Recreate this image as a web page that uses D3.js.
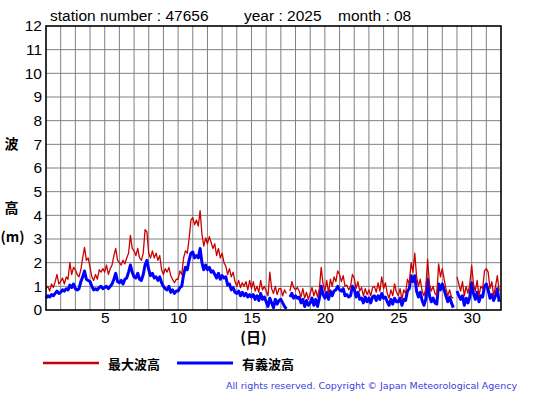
<!DOCTYPE html>
<html>
<head>
<meta charset="utf-8">
<script src="https://cdn.jsdelivr.net/npm/d3@7"></script>
<style>
  body { margin: 0; background: #fff; }
  svg { display: block; }
</style>
</head>
<body>
<svg width="555" height="395"></svg>
<script>
// 観測値 (3時間ごと, 1日8点), null = 欠測
var maxWave = [
  0.9,1.0,0.8,1.1,0.95,1.2,1.5,1.1,
  1.2,1.35,1.1,1.4,1.3,2.0,1.5,1.8,
  1.7,1.5,1.4,1.7,2.2,2.65,2.1,2.2,
  1.8,1.4,1.25,1.5,1.3,1.7,1.6,1.75,
  1.6,1.9,1.5,1.75,1.9,2.3,2.6,2.1,
  2.0,1.9,2.1,1.95,2.2,2.4,3.15,2.6,
  2.5,2.3,2.6,2.2,2.1,2.4,3.4,3.3,
  2.4,2.2,2.5,2.2,2.4,2.1,2.3,1.7,
  1.5,1.75,1.6,1.8,1.45,1.3,1.15,1.3,
  1.3,1.65,1.5,2.2,2.5,2.4,3.0,3.8,
  3.9,3.6,3.8,3.55,4.2,3.2,2.7,3.05,
  2.8,3.1,2.85,2.6,2.8,2.3,2.6,2.2,
  2.4,2.0,1.85,1.5,1.75,1.4,1.6,1.2,
  1.0,1.25,0.95,1.15,1.0,1.2,0.85,1.25,
  0.9,1.2,0.8,1.0,0.75,1.25,0.85,1.0,
  0.8,0.6,1.6,0.9,0.7,1.0,0.65,0.9,
  0.9,0.6,0.85,0.7,null,0.8,1.2,0.95,
  0.85,0.95,0.8,0.55,0.9,0.5,0.75,0.45,
  0.7,0.95,0.6,0.85,0.55,0.9,1.8,1.1,
  0.8,1.25,0.7,1.3,1.0,1.4,1.2,1.65,
  1.5,1.2,1.45,1.0,1.05,0.85,1.0,1.5,
  1.35,0.9,1.2,0.8,0.95,0.6,0.9,0.65,
  0.85,0.6,0.95,1.0,0.75,1.15,0.8,1.4,
  0.9,1.15,0.7,0.5,0.85,0.6,1.1,0.75,
  0.6,0.9,0.45,0.85,0.7,1.3,1.1,2.0,
  1.6,2.4,1.4,1.0,1.3,0.8,0.6,0.9,
  2.15,1.1,0.8,1.0,0.7,0.6,1.95,1.4,
  1.75,1.3,0.9,0.6,0.85,0.55,0.5,null,
  1.4,1.1,0.8,1.2,0.6,1.0,0.7,1.1,
  1.9,1.1,0.8,1.25,0.6,1.0,0.9,1.65,
  1.75,1.6,0.9,1.2,0.6,1.0,1.45,0.8
];
var sigWave = [
  0.5,0.6,0.55,0.65,0.6,0.7,0.8,0.7,
  0.75,0.85,0.8,0.9,0.85,1.05,0.95,1.1,
  0.9,0.85,0.9,1.2,1.4,1.65,1.3,1.25,
  1.2,1.0,0.85,0.9,0.85,0.95,1.0,0.9,
  0.95,1.0,0.9,1.0,1.1,1.3,1.55,1.2,
  1.15,1.25,1.1,1.3,1.35,1.6,1.9,1.6,
  1.4,1.35,1.55,1.3,1.25,1.5,1.9,2.1,
  1.7,1.45,1.55,1.35,1.4,1.25,1.4,1.15,
  1.0,0.9,0.85,1.0,0.75,0.85,0.7,0.8,
  0.8,0.95,1.0,1.5,1.8,1.7,2.1,2.4,
  2.45,2.2,2.3,2.2,2.6,2.0,1.7,1.9,
  1.7,1.8,1.6,1.65,1.5,1.35,1.55,1.3,
  1.45,1.35,1.4,1.05,1.1,0.85,0.95,0.75,
  0.7,0.8,0.6,0.75,0.6,0.7,0.55,0.65,
  0.55,0.65,0.45,0.6,0.4,0.7,0.45,0.55,
  0.35,0.15,0.5,0.3,0.1,0.45,0.25,0.4,
  0.45,0.3,0.15,0.05,null,0.55,0.7,0.5,
  0.6,0.5,0.55,0.3,0.45,0.15,0.4,0.2,
  0.3,0.5,0.2,0.45,0.15,0.5,1.0,0.65,
  0.5,0.75,0.45,0.8,0.6,0.8,0.85,1.0,
  0.85,0.8,0.9,0.6,0.65,0.55,0.6,1.0,
  0.9,0.55,0.75,0.45,0.5,0.3,0.55,0.35,
  0.5,0.3,0.55,0.6,0.4,0.6,0.45,0.7,
  0.5,0.55,0.35,0.2,0.45,0.25,0.5,0.35,
  0.35,0.5,0.2,0.45,0.4,0.8,0.9,1.45,
  1.2,1.45,0.8,0.55,0.75,0.4,0.2,0.45,
  1.3,0.6,0.35,0.5,0.3,0.25,1.1,0.85,
  1.1,0.85,0.6,0.35,0.55,0.3,0.1,null,
  0.8,0.6,0.45,0.6,0.2,0.5,0.3,0.55,
  1.15,0.7,0.45,0.75,0.35,0.6,0.55,1.0,
  1.1,0.85,0.5,0.65,0.4,0.6,0.9,0.35
];
var stepsPerDay = 8;
var yTicks = [0,1,2,3,4,5,6,7,8,9,10,11,12];
var xTicks = [5,10,15,20,25,30];
var legendNames = ["最大波高", "有義波高"];
var titleParts = ["station number : 47656", "year : 2025", "month : 08"];

var svg = d3.select("svg");
var pLeft = 46, pRight = 501, pTop = 26, pBottom = 310;

var x = d3.scaleLinear().domain([1, 32]).range([pLeft, pRight]);
var y = d3.scaleLinear().domain([0, 12]).range([pBottom, pTop]);

var latin = "'Liberation Sans', Arial, Helvetica, sans-serif";
var cjk = "'Noto Sans CJK JP', sans-serif";

svg.append("rect").attr("width", 555).attr("height", 395).attr("fill", "#fff");

// grid
svg.append("g").selectAll("line")
  .data(d3.range(2, 32))
  .enter().append("line")
  .attr("x1", function(d){ return x(d); })
  .attr("x2", function(d){ return x(d); })
  .attr("y1", pTop).attr("y2", pBottom)
  .attr("stroke", "#808080").attr("stroke-width", 1);

svg.append("g").selectAll("line")
  .data(yTicks.slice(1, -1))
  .enter().append("line")
  .attr("y1", function(d){ return y(d); })
  .attr("y2", function(d){ return y(d); })
  .attr("x1", pLeft).attr("x2", pRight)
  .attr("stroke", "#808080").attr("stroke-width", 1);

// series
var line = d3.line()
  .defined(function(d){ return d != null; })
  .x(function(d, i){ return x(1 + i / stepsPerDay); })
  .y(function(d){ return y(d); });

svg.append("path").datum(sigWave)
  .attr("d", line)
  .attr("fill", "none").attr("stroke", "#0000ff").attr("stroke-width", 3)
  .attr("stroke-linejoin", "round");

svg.append("path").datum(maxWave)
  .attr("d", line)
  .attr("fill", "none").attr("stroke", "#cc0000").attr("stroke-width", 1.3)
  .attr("stroke-linejoin", "round");

// frame
svg.append("rect")
  .attr("x", pLeft).attr("y", pTop)
  .attr("width", pRight - pLeft).attr("height", pBottom - pTop)
  .attr("fill", "none").attr("stroke", "#000").attr("stroke-width", 1.6);

// axes
var yAxis = svg.append("g")
  .attr("transform", "translate(" + pLeft + ",0)")
  .call(d3.axisLeft(y).tickValues(yTicks).tickSize(0).tickPadding(4).tickFormat(d3.format("d")));
var xAxis = svg.append("g")
  .attr("transform", "translate(0," + pBottom + ")")
  .call(d3.axisBottom(x).tickValues(xTicks).tickSize(0).tickPadding(2).tickFormat(d3.format("d")));
[yAxis, xAxis].forEach(function(g){
  g.select(".domain").remove();
  g.selectAll("text")
    .attr("fill", "#000")
    .style("font-family", latin)
    .style("font-size", "15.5px");
});

// title
var titleX = [50, 244, 338];
svg.append("g").selectAll("text")
  .data(titleParts)
  .enter().append("text")
  .attr("x", function(d, i){ return titleX[i]; })
  .attr("y", 20.5)
  .style("font-family", latin)
  .style("font-size", "15.5px")
  .text(function(d){ return d; });

// axis titles
var ylab = [["波", 148.5], ["高", 212.5]];
ylab.forEach(function(l){
  svg.append("text").attr("x", 11.5).attr("y", l[1])
    .attr("text-anchor", "middle")
    .style("font-family", cjk).style("font-size", "14px").style("font-weight", "bold")
    .text(l[0]);
});
svg.append("text").attr("x", 12.5).attr("y", 242)
  .attr("text-anchor", "middle")
  .style("font-family", cjk).style("font-size", "14px").style("font-weight", "bold")
  .text("(m)");
svg.append("text").attr("x", 253.5).attr("y", 343)
  .attr("text-anchor", "middle")
  .style("font-family", cjk).style("font-size", "15px").style("font-weight", "bold")
  .text("(日)");

// legend
var legendColors = ["#cc0000", "#0000ff"];
var legendX = [43, 177];
legendNames.forEach(function(name, i){
  svg.append("line")
    .attr("x1", legendX[i]).attr("x2", legendX[i] + 56)
    .attr("y1", 363).attr("y2", 363)
    .attr("stroke", legendColors[i]).attr("stroke-width", i ? 3 : 2.6);
  svg.append("text")
    .attr("x", legendX[i] + 65).attr("y", 368.5)
    .style("font-family", cjk).style("font-size", "13px").style("font-weight", "bold")
    .text(name);
});

svg.append("text")
  .attr("x", 226).attr("y", 388.5)
  .attr("textLength", 291).attr("lengthAdjust", "spacing")
  .attr("fill", "#4040dd")
  .style("font-family", "'DejaVu Sans', sans-serif").style("font-size", "9.5px")
  .text("All rights reserved. Copyright © Japan Meteorological Agency");
</script>
</body>
</html>
